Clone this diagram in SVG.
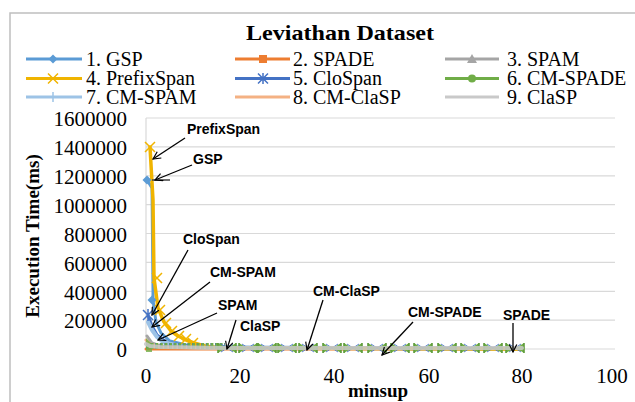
<svg xmlns="http://www.w3.org/2000/svg" width="635" height="402" viewBox="0 0 635 402">
  <style>
    .serif { font-family: "Liberation Serif", "Times New Roman", serif; fill: #000; }
    .leg { font-size: 20px; }
    .tick { font-size: 21px; }
    .callout { font-family: "Liberation Sans", Arial, sans-serif; font-weight: bold; font-size: 14px; fill: #000; }
    .grid { stroke: #D9D9D9; stroke-width: 1.2; fill: none; }
    .ser { fill: none; stroke-linejoin: round; stroke-linecap: round; }
    .arrow { stroke: #000; stroke-width: 1.3; fill: none; marker-end: url(#head); }
  </style>
  <defs>
    <marker id="head" viewBox="0 0 12 12" refX="11" refY="6" markerWidth="9" markerHeight="9" markerUnits="userSpaceOnUse" orient="auto">
      <path d="M1,1 L11,6 L1,11" fill="none" stroke="#000" stroke-width="1.6"/>
    </marker>
    <!-- overlapping markers of the low-valued series -->
    <g id="cluster">
      <path d="M-9,-5 L-1,0 L-9,5 Z M9,-5 L1,0 L9,5 Z" fill="#70AD47"/>
      <path d="M-6,-4 L6,4 M-6,4 L6,-4" stroke="#4472C4" stroke-width="0.9"/>
      <path d="M-9,-5 L-9,5 M9,-5 L9,5" stroke="#5E9C3A" stroke-width="1.6"/>
    </g>
    <path id="xmark" d="M-5,-5 L5,5 M-5,5 L5,-5" stroke="#F0B400" stroke-width="1.5" fill="none"/>
  </defs>

  <rect width="635" height="402" fill="#fff"/>
  <!-- chart frame -->
  <path d="M10,402 L10,13 L635,13" stroke="#BFBFBF" stroke-width="1.5" fill="none"/>

  <text class="serif" x="340" y="40" font-size="22" font-weight="bold" text-anchor="middle" textLength="188" lengthAdjust="spacingAndGlyphs">Leviathan Dataset</text>

  <!-- legend -->
  <g id="legend">
    <g id="leg-gsp">
      <line x1="26" y1="59" x2="82" y2="59" stroke="#5B9BD5" stroke-width="3"/>
      <path d="M53,54.5 L57.5,59 L53,63.5 L48.5,59 Z" fill="#5B9BD5"/>
      <text class="serif leg" x="86" y="65.5">1. GSP</text>
    </g>
    <g id="leg-spade">
      <line x1="235" y1="59" x2="290" y2="59" stroke="#ED7D31" stroke-width="3"/>
      <rect x="259" y="55" width="8" height="8" fill="#ED7D31"/>
      <text class="serif leg" x="293" y="65.5">2. SPADE</text>
    </g>
    <g id="leg-spam">
      <line x1="445" y1="59" x2="499" y2="59" stroke="#A5A5A5" stroke-width="3"/>
      <path d="M472,54 L477,63 L467,63 Z" fill="#A5A5A5"/>
      <text class="serif leg" x="507" y="65.5">3. SPAM</text>
    </g>
    <g id="leg-prefixspan">
      <line x1="26" y1="78.5" x2="82" y2="78.5" stroke="#F0B400" stroke-width="3"/>
      <use href="#xmark" x="53" y="78.5"/>
      <text class="serif leg" x="86" y="85">4. PrefixSpan</text>
    </g>
    <g id="leg-clospan">
      <line x1="235" y1="78.5" x2="290" y2="78.5" stroke="#4472C4" stroke-width="3"/>
      <path d="M258,73.5 L268,83.5 M258,83.5 L268,73.5 M263,73 L263,84" stroke="#4472C4" stroke-width="1.5"/>
      <text class="serif leg" x="293" y="85">5. CloSpan</text>
    </g>
    <g id="leg-cmspade">
      <line x1="445" y1="78.5" x2="499" y2="78.5" stroke="#70AD47" stroke-width="3"/>
      <circle cx="472" cy="78.5" r="4" fill="#70AD47"/>
      <text class="serif leg" x="507" y="85">6. CM-SPADE</text>
    </g>
    <g id="leg-cmspam">
      <line x1="26" y1="97" x2="82" y2="97" stroke="#9DC3E6" stroke-width="3"/>
      <line x1="53" y1="92" x2="53" y2="102" stroke="#9DC3E6" stroke-width="1.5"/>
      <text class="serif leg" x="86" y="103.5">7. CM-SPAM</text>
    </g>
    <g id="leg-cmclasp">
      <line x1="235" y1="97" x2="290" y2="97" stroke="#F4B183" stroke-width="3"/>
      <text class="serif leg" x="293" y="103.5">8. CM-ClaSP</text>
    </g>
    <g id="leg-clasp">
      <line x1="445" y1="97" x2="499" y2="97" stroke="#C9C9C9" stroke-width="3"/>
      <text class="serif leg" x="507" y="103.5">9. ClaSP</text>
    </g>
  </g>

  <!-- plot area grid -->
  <g id="grid">
    <path class="grid" d="M146,118 H615 M146,146.9 H615 M146,175.8 H615 M146,204.6 H615 M146,233.5 H615 M146,262.4 H615 M146,291.3 H615 M146,320.1 H615 M146,349 H615"/>
    <line x1="146" y1="118" x2="146" y2="349" stroke="#D9D9D9" stroke-width="1.2"/>
  </g>

  <!-- axes labels -->
  <g id="y-axis" class="serif tick" text-anchor="end">
    <text x="127" y="126">1600000</text>
    <text x="127" y="155">1400000</text>
    <text x="127" y="184">1200000</text>
    <text x="127" y="213">1000000</text>
    <text x="127" y="242">800000</text>
    <text x="127" y="271">600000</text>
    <text x="127" y="300">400000</text>
    <text x="127" y="328">200000</text>
    <text x="127" y="357">0</text>
  </g>
  <g id="x-axis" class="serif tick" text-anchor="middle">
    <text x="146" y="383">0</text>
    <text x="240" y="383">20</text>
    <text x="334" y="383">40</text>
    <text x="429" y="383">60</text>
    <text x="522" y="383">80</text>
    <text x="612" y="383">100</text>
  </g>
  <text class="serif" x="378" y="397" font-size="19" font-weight="bold" text-anchor="middle">minsup</text>
  <text class="serif" transform="translate(39,236) rotate(-90)" font-size="19" font-weight="bold" text-anchor="middle">Execution Time(ms)</text>

  <!-- data series -->
  <g id="series">
    <polyline class="ser" stroke="#ED7D31" stroke-width="3" points="146,349 522,349"/>
    <polyline class="ser" stroke="#5B9BD5" stroke-width="3" points="147,180 152,188 153,290 153,300 156,322 161,333 170,341 190,346 225,348 522,349"/>
    <polyline class="ser" stroke="#4472C4" stroke-width="3" points="148,315 152,326 157,335 166,342 190,347 522,349"/>
    <polyline class="ser" stroke="#9DC3E6" stroke-width="4" points="148,322 152,330 157,337 163,342 185,347 522,349"/>
    <polyline class="ser" stroke="#A5A5A5" stroke-width="3" points="147,336 152,343 160,346 200,348 522,348"/>
    <polyline class="ser" stroke="#F4B183" stroke-width="3" points="146,340 150,344 160,347 200,348 522,349"/>
    <polyline class="ser" stroke="#F0B400" stroke-width="3.5" points="150,147 153,200 154,278 158,308 164,322 171,331 178,336 186,340 194,343 205,346 220,348 522,349"/>
    <!-- GSP points near the axis -->
    <path d="M147,175.5 L151.5,180 L147,184.5 L142.5,180 Z" fill="#5B9BD5"/>
    <line x1="152" y1="180" x2="170" y2="180" stroke="#404040" stroke-width="1.5"/>
    <path d="M152,295.5 L156.5,300 L152,304.5 L147.5,300 Z" fill="#5B9BD5"/>
    <!-- CloSpan asterisk -->
    <path d="M143,310 L153,320 M143,320 L153,310 M148,309 L148,321" stroke="#4472C4" stroke-width="1.5"/>
    <!-- PrefixSpan X markers -->
    <use href="#xmark" x="150" y="147"/>
    <use href="#xmark" x="157" y="278"/>
    <use href="#xmark" x="160" y="310"/>
    <use href="#xmark" x="166" y="323"/>
    <use href="#xmark" x="172" y="331"/>
    <use href="#xmark" x="179" y="336"/>
    <use href="#xmark" x="186" y="339"/>
    <use href="#xmark" x="193" y="343"/>
    <!-- dense band of low-value markers -->
    <line x1="146" y1="346" x2="225" y2="346" stroke="#70AD47" stroke-width="6" stroke-dasharray="3 1.6"/>
    <line x1="146" y1="346" x2="225" y2="346" stroke="#4472C4" stroke-width="6" stroke-dasharray="0.8 3.8" opacity="0.6"/>
    <path d="M146,338 L146,352 L152,352 L152,344 Z" fill="#70AD47" opacity="0.8"/>
    <use href="#cluster" x="227" y="348"/>
    <use href="#cluster" x="248" y="348"/>
    <use href="#cluster" x="267" y="348"/>
    <use href="#cluster" x="287" y="348"/>
    <use href="#cluster" x="308" y="348"/>
    <use href="#cluster" x="332" y="348"/>
    <use href="#cluster" x="353" y="348"/>
    <use href="#cluster" x="377" y="348"/>
    <use href="#cluster" x="400" y="348"/>
    <use href="#cluster" x="423" y="348"/>
    <use href="#cluster" x="447" y="348"/>
    <use href="#cluster" x="470" y="348"/>
    <use href="#cluster" x="493" y="348"/>
    <use href="#cluster" x="515" y="348"/>
    <polyline class="ser" stroke="#C9C9C9" stroke-width="4" opacity="0.85" points="146,344 150,346 160,347 225,348 522,348"/>
  </g>

  <!-- callouts -->
  <g id="connectors">
    <line class="arrow" x1="185" y1="138" x2="153" y2="159"/>
    <line class="arrow" x1="192" y1="165" x2="155" y2="180"/>
    <line class="arrow" x1="188" y1="250" x2="152" y2="315"/>
    <line class="arrow" x1="210" y1="282" x2="152" y2="327"/>
    <line class="arrow" x1="217" y1="313" x2="158" y2="340"/>
    <line class="arrow" x1="236" y1="320" x2="227" y2="349"/>
    <line class="arrow" x1="323" y1="300" x2="307" y2="350"/>
    <line class="arrow" x1="413" y1="322" x2="382" y2="355"/>
    <line class="arrow" x1="513" y1="323" x2="513" y2="352"/>
  </g>
  <g id="labels" class="callout">
    <text x="187" y="134">PrefixSpan</text>
    <text x="193" y="164">GSP</text>
    <text x="183" y="244">CloSpan</text>
    <text x="210" y="277">CM-SPAM</text>
    <text x="218" y="310">SPAM</text>
    <text x="240" y="331">ClaSP</text>
    <text x="313" y="296">CM-ClaSP</text>
    <text x="408" y="317">CM-SPADE</text>
    <text x="503" y="320">SPADE</text>
  </g>
</svg>
